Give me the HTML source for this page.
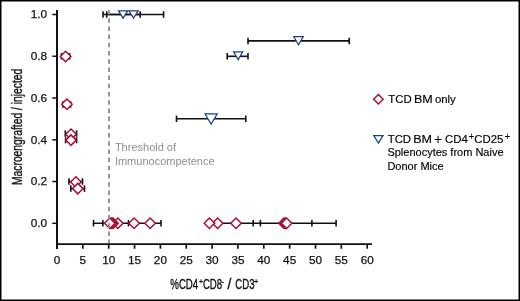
<!DOCTYPE html>
<html><head><meta charset="utf-8"><style>
html,body{margin:0;padding:0;background:#fff;}
body{width:520px;height:301px;overflow:hidden;position:relative;font-family:"Liberation Sans",sans-serif;}
svg{position:absolute;left:0;top:0;will-change:transform;}
.tk{font-family:"Liberation Sans",sans-serif;font-size:11.8px;fill:#111;stroke:#111;stroke-width:0.25px;}
.lg{font-family:"Liberation Sans",sans-serif;font-size:11px;fill:#000;stroke:#000;stroke-width:0.15px;}
.th{font-family:"Liberation Sans",sans-serif;font-size:11px;fill:#8f8f8f;}
.sup{font-family:"Liberation Sans",sans-serif;font-size:10px;fill:#000;}
.lg2{font-size:11.4px;}
.ax{font-family:"Liberation Sans",sans-serif;font-size:13.8px;fill:#111;stroke:#111;stroke-width:0.35px;}
.axs{font-family:"Liberation Sans",sans-serif;font-size:7.2px;fill:#111;stroke:#111;stroke-width:0.3px;}
</style></head><body>
<svg width="520" height="301" viewBox="0 0 520 301">
<rect x="0" y="0" width="520" height="301" fill="#fff"/>
<line x1="57" y1="10" x2="57" y2="249" stroke="#111" stroke-width="2"/>
<line x1="56" y1="244.05" x2="372" y2="244.05" stroke="#111" stroke-width="1.85"/>
<line x1="52.3" y1="223.30" x2="57" y2="223.30" stroke="#111" stroke-width="1.5"/>
<line x1="52.3" y1="181.54" x2="57" y2="181.54" stroke="#111" stroke-width="1.5"/>
<line x1="52.3" y1="139.78" x2="57" y2="139.78" stroke="#111" stroke-width="1.5"/>
<line x1="52.3" y1="98.02" x2="57" y2="98.02" stroke="#111" stroke-width="1.5"/>
<line x1="52.3" y1="56.26" x2="57" y2="56.26" stroke="#111" stroke-width="1.5"/>
<line x1="52.3" y1="14.50" x2="57" y2="14.50" stroke="#111" stroke-width="1.5"/>
<line x1="82.85" y1="244" x2="82.85" y2="248.7" stroke="#111" stroke-width="1.7"/>
<line x1="108.70" y1="244" x2="108.70" y2="248.7" stroke="#111" stroke-width="1.7"/>
<line x1="134.55" y1="244" x2="134.55" y2="248.7" stroke="#111" stroke-width="1.7"/>
<line x1="160.40" y1="244" x2="160.40" y2="248.7" stroke="#111" stroke-width="1.7"/>
<line x1="186.25" y1="244" x2="186.25" y2="248.7" stroke="#111" stroke-width="1.7"/>
<line x1="212.10" y1="244" x2="212.10" y2="248.7" stroke="#111" stroke-width="1.7"/>
<line x1="237.95" y1="244" x2="237.95" y2="248.7" stroke="#111" stroke-width="1.7"/>
<line x1="263.80" y1="244" x2="263.80" y2="248.7" stroke="#111" stroke-width="1.7"/>
<line x1="289.65" y1="244" x2="289.65" y2="248.7" stroke="#111" stroke-width="1.7"/>
<line x1="315.50" y1="244" x2="315.50" y2="248.7" stroke="#111" stroke-width="1.7"/>
<line x1="341.35" y1="244" x2="341.35" y2="248.7" stroke="#111" stroke-width="1.7"/>
<line x1="367.20" y1="244" x2="367.20" y2="248.7" stroke="#111" stroke-width="1.7"/>
<line x1="103.0" y1="14.5" x2="140.2" y2="14.5" stroke="#111" stroke-width="1.6"/>
<line x1="103.0" y1="11.25" x2="103.0" y2="17.75" stroke="#111" stroke-width="1.6"/>
<line x1="140.2" y1="11.25" x2="140.2" y2="17.75" stroke="#111" stroke-width="1.6"/>
<line x1="106.7" y1="14.5" x2="163.6" y2="14.5" stroke="#111" stroke-width="1.6"/>
<line x1="106.7" y1="11.25" x2="106.7" y2="17.75" stroke="#111" stroke-width="1.6"/>
<line x1="163.6" y1="11.25" x2="163.6" y2="17.75" stroke="#111" stroke-width="1.6"/>
<line x1="248.0" y1="40.9" x2="349.2" y2="40.9" stroke="#111" stroke-width="1.6"/>
<line x1="248.0" y1="37.65" x2="248.0" y2="44.15" stroke="#111" stroke-width="1.6"/>
<line x1="349.2" y1="37.65" x2="349.2" y2="44.15" stroke="#111" stroke-width="1.6"/>
<line x1="227.2" y1="56.3" x2="248.0" y2="56.3" stroke="#111" stroke-width="1.6"/>
<line x1="227.2" y1="53.05" x2="227.2" y2="59.55" stroke="#111" stroke-width="1.6"/>
<line x1="248.0" y1="53.05" x2="248.0" y2="59.55" stroke="#111" stroke-width="1.6"/>
<line x1="176.5" y1="118.8" x2="245.8" y2="118.8" stroke="#111" stroke-width="1.6"/>
<line x1="176.5" y1="115.55" x2="176.5" y2="122.05" stroke="#111" stroke-width="1.6"/>
<line x1="245.8" y1="115.55" x2="245.8" y2="122.05" stroke="#111" stroke-width="1.6"/>
<line x1="61.5" y1="56.3" x2="69.6" y2="56.3" stroke="#111" stroke-width="1.6"/>
<line x1="61.5" y1="53.05" x2="61.5" y2="59.55" stroke="#111" stroke-width="1.6"/>
<line x1="69.6" y1="53.05" x2="69.6" y2="59.55" stroke="#111" stroke-width="1.6"/>
<line x1="62.9" y1="104.5" x2="70.6" y2="104.5" stroke="#111" stroke-width="1.6"/>
<line x1="62.9" y1="101.25" x2="62.9" y2="107.75" stroke="#111" stroke-width="1.6"/>
<line x1="70.6" y1="101.25" x2="70.6" y2="107.75" stroke="#111" stroke-width="1.6"/>
<line x1="65.3" y1="133.6" x2="76.6" y2="133.6" stroke="#111" stroke-width="1.6"/>
<line x1="65.3" y1="130.35" x2="65.3" y2="136.85" stroke="#111" stroke-width="1.6"/>
<line x1="76.6" y1="130.35" x2="76.6" y2="136.85" stroke="#111" stroke-width="1.6"/>
<line x1="65.6" y1="140.3" x2="76.6" y2="140.3" stroke="#111" stroke-width="1.6"/>
<line x1="65.6" y1="137.30" x2="65.6" y2="143.30" stroke="#111" stroke-width="1.6"/>
<line x1="76.6" y1="137.30" x2="76.6" y2="143.30" stroke="#111" stroke-width="1.6"/>
<line x1="69.0" y1="181.5" x2="82.5" y2="181.5" stroke="#111" stroke-width="1.6"/>
<line x1="69.0" y1="178.25" x2="69.0" y2="184.75" stroke="#111" stroke-width="1.6"/>
<line x1="82.5" y1="178.25" x2="82.5" y2="184.75" stroke="#111" stroke-width="1.6"/>
<line x1="70.8" y1="188.6" x2="84.5" y2="188.6" stroke="#111" stroke-width="1.6"/>
<line x1="70.8" y1="185.35" x2="70.8" y2="191.85" stroke="#111" stroke-width="1.6"/>
<line x1="84.5" y1="185.35" x2="84.5" y2="191.85" stroke="#111" stroke-width="1.6"/>
<line x1="93.5" y1="223.2" x2="161.0" y2="223.2" stroke="#111" stroke-width="1.6"/>
<line x1="93.5" y1="219.95" x2="93.5" y2="226.45" stroke="#111" stroke-width="1.6"/>
<line x1="102.8" y1="219.95" x2="102.8" y2="226.45" stroke="#111" stroke-width="1.6"/>
<line x1="128.5" y1="219.95" x2="128.5" y2="226.45" stroke="#111" stroke-width="1.6"/>
<line x1="161.0" y1="219.95" x2="161.0" y2="226.45" stroke="#111" stroke-width="1.6"/>
<line x1="215.0" y1="223.2" x2="336.1" y2="223.2" stroke="#111" stroke-width="1.6"/>
<line x1="253.2" y1="219.95" x2="253.2" y2="226.45" stroke="#111" stroke-width="1.6"/>
<line x1="260.4" y1="219.95" x2="260.4" y2="226.45" stroke="#111" stroke-width="1.6"/>
<line x1="311.9" y1="219.95" x2="311.9" y2="226.45" stroke="#111" stroke-width="1.6"/>
<line x1="336.1" y1="219.95" x2="336.1" y2="226.45" stroke="#111" stroke-width="1.6"/>
<path d="M60.35 56.50L65.60 51.25L70.85 56.50L65.60 61.75Z" fill="#fff" stroke="#a90d35" stroke-width="1.5" stroke-linejoin="miter"/>
<path d="M61.65 104.30L66.90 99.05L72.15 104.30L66.90 109.55Z" fill="#fff" stroke="#a90d35" stroke-width="1.5" stroke-linejoin="miter"/>
<path d="M65.75 134.20L71.00 128.95L76.25 134.20L71.00 139.45Z" fill="#fff" stroke="#a90d35" stroke-width="1.5" stroke-linejoin="miter"/>
<path d="M65.75 140.10L71.00 134.85L76.25 140.10L71.00 145.35Z" fill="#fff" stroke="#a90d35" stroke-width="1.5" stroke-linejoin="miter"/>
<path d="M70.65 182.00L75.90 176.75L81.15 182.00L75.90 187.25Z" fill="#fff" stroke="#a90d35" stroke-width="1.5" stroke-linejoin="miter"/>
<path d="M72.55 188.60L77.80 183.35L83.05 188.60L77.80 193.85Z" fill="#fff" stroke="#a90d35" stroke-width="1.5" stroke-linejoin="miter"/>
<path d="M112.55 223.20L117.80 217.95L123.05 223.20L117.80 228.45Z" fill="#fff" stroke="#a90d35" stroke-width="1.5" stroke-linejoin="miter"/>
<path d="M107.75 223.20L113.00 217.95L118.25 223.20L113.00 228.45Z" fill="#fff" stroke="#a90d35" stroke-width="1.5" stroke-linejoin="miter"/>
<path d="M106.75 223.20L112.00 217.95L117.25 223.20L112.00 228.45Z" fill="#fff" stroke="#a90d35" stroke-width="1.5" stroke-linejoin="miter"/>
<path d="M105.75 223.20L111.00 217.95L116.25 223.20L111.00 228.45Z" fill="#fff" stroke="#a90d35" stroke-width="1.5" stroke-linejoin="miter"/>
<path d="M104.55 223.20L109.80 217.95L115.05 223.20L109.80 228.45Z" fill="#fff" stroke="#a90d35" stroke-width="1.5" stroke-linejoin="miter"/>
<path d="M128.85 223.20L134.10 217.95L139.35 223.20L134.10 228.45Z" fill="#fff" stroke="#a90d35" stroke-width="1.5" stroke-linejoin="miter"/>
<path d="M144.85 223.20L150.10 217.95L155.35 223.20L150.10 228.45Z" fill="#fff" stroke="#a90d35" stroke-width="1.5" stroke-linejoin="miter"/>
<path d="M212.35 223.20L217.60 217.95L222.85 223.20L217.60 228.45Z" fill="#fff" stroke="#a90d35" stroke-width="1.5" stroke-linejoin="miter"/>
<path d="M204.15 223.20L209.40 217.95L214.65 223.20L209.40 228.45Z" fill="#fff" stroke="#a90d35" stroke-width="1.5" stroke-linejoin="miter"/>
<path d="M230.75 223.20L236.00 217.95L241.25 223.20L236.00 228.45Z" fill="#fff" stroke="#a90d35" stroke-width="1.5" stroke-linejoin="miter"/>
<path d="M278.75 223.20L284.00 217.95L289.25 223.20L284.00 228.45Z" fill="#fff" stroke="#a90d35" stroke-width="1.5" stroke-linejoin="miter"/>
<path d="M280.05 223.20L285.30 217.95L290.55 223.20L285.30 228.45Z" fill="#fff" stroke="#a90d35" stroke-width="1.5" stroke-linejoin="miter"/>
<path d="M281.35 223.20L286.60 217.95L291.85 223.20L286.60 228.45Z" fill="#fff" stroke="#a90d35" stroke-width="1.5" stroke-linejoin="miter"/>
<path d="M118.55 10.93L127.65 10.93L123.10 18.20Z" fill="#fff" stroke="#1e3f82" stroke-width="1.25" stroke-linejoin="miter"/>
<path d="M128.85 10.93L138.15 10.93L133.50 18.20Z" fill="#fff" stroke="#1e3f82" stroke-width="1.25" stroke-linejoin="miter"/>
<path d="M293.80 36.73L303.20 36.73L298.50 44.70Z" fill="#fff" stroke="#1e3f82" stroke-width="1.25" stroke-linejoin="miter"/>
<path d="M233.65 51.83L242.75 51.83L238.20 59.80Z" fill="#fff" stroke="#1e3f82" stroke-width="1.25" stroke-linejoin="miter"/>
<path d="M205.05 113.97L217.15 113.97L211.10 124.10Z" fill="#fff" stroke="#1e3f82" stroke-width="1.25" stroke-linejoin="miter"/>
<path d="M373.65 99.20L378.40 94.45L383.15 99.20L378.40 103.95Z" fill="#fff" stroke="#a90d35" stroke-width="1.5" stroke-linejoin="miter"/>
<path d="M373.75 135.62L383.05 135.62L378.40 143.10Z" fill="#fff" stroke="#1e3f82" stroke-width="1.25" stroke-linejoin="miter"/>
<line x1="109" y1="10" x2="109" y2="243" stroke="#8c8c8c" stroke-width="1.8" stroke-dasharray="4.5 3.7"/>
<text x="47.2" y="227.10" text-anchor="end" class="tk">0.0</text>
<text x="47.2" y="185.34" text-anchor="end" class="tk">0.2</text>
<text x="47.2" y="143.58" text-anchor="end" class="tk">0.4</text>
<text x="47.2" y="101.82" text-anchor="end" class="tk">0.6</text>
<text x="47.2" y="60.06" text-anchor="end" class="tk">0.8</text>
<text x="47.2" y="18.30" text-anchor="end" class="tk">1.0</text>
<text x="57.00" y="264.3" text-anchor="middle" class="tk">0</text>
<text x="82.85" y="264.3" text-anchor="middle" class="tk">5</text>
<text x="108.70" y="264.3" text-anchor="middle" class="tk">10</text>
<text x="134.55" y="264.3" text-anchor="middle" class="tk">15</text>
<text x="160.40" y="264.3" text-anchor="middle" class="tk">20</text>
<text x="186.25" y="264.3" text-anchor="middle" class="tk">25</text>
<text x="212.10" y="264.3" text-anchor="middle" class="tk">30</text>
<text x="237.95" y="264.3" text-anchor="middle" class="tk">35</text>
<text x="263.80" y="264.3" text-anchor="middle" class="tk">40</text>
<text x="289.65" y="264.3" text-anchor="middle" class="tk">45</text>
<text x="315.50" y="264.3" text-anchor="middle" class="tk">50</text>
<text x="341.35" y="264.3" text-anchor="middle" class="tk">55</text>
<text x="367.20" y="264.3" text-anchor="middle" class="tk">60</text>

<text x="388.3" y="103.0" class="lg lg2">TCD</text>
<text x="0" y="0" class="lg lg2" transform="translate(414.0,103.0) scale(1.1,1)">BM</text>
<text x="434.9" y="103.0" class="lg lg2">only</text>
<text x="387.7" y="142.5" class="lg lg2">TCD</text>
<text x="0" y="0" class="lg lg2" transform="translate(413.2,142.5) scale(1.1,1)">BM</text>
<text x="434.1" y="143.6" class="lg" style="font-size:14px;stroke-width:0">+</text>
<text x="445.0" y="142.5" class="lg lg2">CD4</text>
<text x="468.5" y="140.2" class="sup">+</text>
<text x="474.3" y="142.5" class="lg lg2">CD25</text>
<text x="504.4" y="140.2" class="sup">+</text>
<text x="387.4" y="156.3" class="lg">Splenocytes from Naive</text>
<text x="387.4" y="170.1" class="lg">Donor Mice</text>
<text x="114.9" y="151.1" class="th">Threshold of</text>
<text x="114.9" y="164.9" class="th">Immunocompetence</text>
<g transform="translate(170.3,288.8) scale(0.70,1)"><text x="0" y="0" class="ax">%CD4</text></g>
<text x="198.9" y="284.0" class="axs">+</text>
<g transform="translate(202.9,288.8) scale(0.70,1)"><text x="0" y="0" class="ax">CD8</text></g>
<g transform="translate(221.6,288.8) scale(0.70,1)"><text x="0" y="-4.2" class="ax" style="font-size:10px">-</text></g>
<text x="227.6" y="288.8" class="ax">/</text>
<g transform="translate(235.2,288.8) scale(0.70,1)"><text x="0" y="0" class="ax">CD3</text></g>
<text x="253.9" y="284.3" class="axs">+</text>
<g transform="translate(21.5,185.0) rotate(-90) scale(0.747,1)"><text x="0" y="0" class="ax">Macroengrafted / injected</text></g>
<!-- frame -->
<rect x="0" y="0" width="520" height="301" fill="none" stroke="#000" stroke-width="3"/>
</svg>
</body></html>
